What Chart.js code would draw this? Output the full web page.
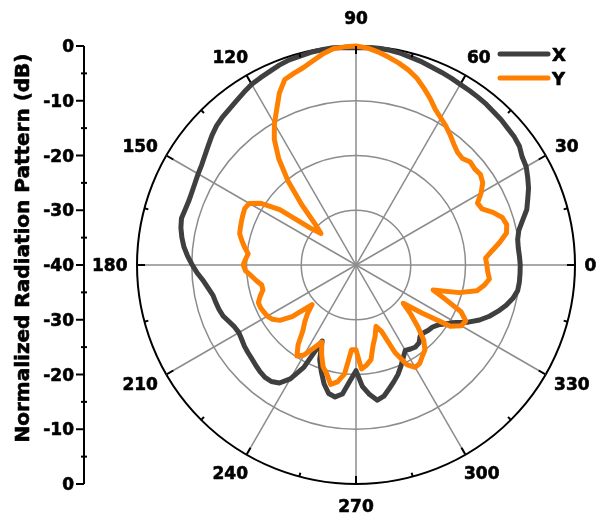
<!DOCTYPE html>
<html>
<head>
<meta charset="utf-8">
<script src="https://cdn.jsdelivr.net/npm/chart.js"></script>
<style>
  html, body { margin: 0; padding: 0; background: #fff; }
  canvas { display: block; }
</style>
</head>
<body>
<canvas id="pattern" width="597" height="518"></canvas>
<script>
// measured every 3 degrees, 0 deg at the right, counter-clockwise
const ANGLES = Array.from({ length: 120 }, (_, i) => i * 3);

const X_DB = [
  -10.0, -10.1, -10.2, -10.1, -9.6, -8.5, -7.2, -6.4, -5.5, -4.8,
  -4.1, -3.8, -3.1, -2.8, -2.7, -2.5, -2.4, -2.2, -2.1, -2.0,
  -1.9, -1.7, -1.5, -1.3, -1.0, -0.8, -0.5, -0.3, -0.2, -0.2,
  -0.3, -0.2, -0.1, -0.2, -0.3, -0.5, -0.6, -0.9, -1.3, -1.6,
  -1.9, -2.4, -2.9, -3.3, -3.6, -4.0, -4.6, -5.3, -5.9, -6.4,
  -6.7, -7.0, -7.2, -7.3, -7.2, -7.0, -7.3, -7.8, -8.4, -9.2,
  -10.1, -11.0, -12.0, -12.7, -13.3, -13.5, -13.7, -14.0, -14.6, -15.1,
  -15.3, -15.1, -14.8, -14.6, -14.4, -14.1, -13.8, -13.6, -13.7, -14.3,
  -16.0, -19.0, -24.8, -21.5, -19.5, -17.5, -16.0, -15.6, -16.3, -18.8,
  -20.7, -17.8, -16.2, -15.0, -15.5, -16.6, -17.6, -18.6, -19.8, -21.0,
  -22.0, -21.7, -21.5, -21.7, -22.5, -22.5, -22.2, -22.0, -21.4, -20.3,
  -19.0, -17.0, -15.3, -13.9, -12.7, -11.6, -10.7, -10.1, -10.0, -10.0
];

const Y_DB = [
  -16.1, -16.3, -15.0, -13.4, -11.9, -11.5, -11.9, -13.2, -14.8, -15.1,
  -13.6, -12.4, -11.9, -12.1, -11.9, -12.5, -12.3, -11.6, -10.7, -9.8,
  -9.0, -8.1, -6.7, -5.4, -4.1, -3.1, -2.3, -1.6, -0.9, -0.3,
  0.0, -0.1, -0.3, -1.0, -1.9, -2.7, -3.2, -3.7, -5.6, -8.1,
  -10.2, -12.6, -16.0, -20.3, -25.2, -29.5, -31.4, -29.3, -22.8, -19.3,
  -17.5, -17.2, -17.4, -17.6, -17.8, -18.0, -18.7, -19.4, -20.2, -19.8,
  -19.4, -19.8, -20.8, -21.6, -22.4, -22.4, -21.6, -20.9, -20.9, -21.1,
  -21.3, -21.8, -22.8, -25.0, -29.2, -27.5, -26.0, -24.6, -22.0, -20.2,
  -21.0, -23.0, -24.6, -22.5, -20.5, -19.4, -17.7, -18.4, -20.0, -24.5,
  -24.5, -21.0, -21.6, -22.5, -25.0, -26.5, -28.2, -27.0, -22.5, -19.6,
  -18.4, -18.6, -19.4, -20.0, -21.5, -24.0, -26.5, -28.9, -25.0, -19.5,
  -17.8, -17.5, -19.0, -22.5, -25.2, -20.5, -17.4, -16.3, -15.5, -15.9
];

const SERIES = ['X', 'Y'];
const ANGLE_TICKS = [0, 30, 60, 90, 120, 150, 180, 210, 240, 270, 300, 330];
const DB_TICKS = [-40, -30, -20, -10, 0];
const AXIS_TITLE = 'Normalized Radiation Pattern (dB)';

// the radar scale runs clockwise, so feed it the angles in reverse
const order = ANGLES.map((_, i) => (ANGLES.length - i) % ANGLES.length);
const labels = order.map(i => ANGLES[i]);
const xData = order.map(i => X_DB[i]);
const yData = order.map(i => Y_DB[i]);

const FONT = '"DejaVu Sans", sans-serif';
const GRID = '#8c8c8c';

// heavy text like the original export
function boldText(ctx, text, x, y) {
  ctx.strokeText(text, x, y);
  ctx.fillText(text, x, y);
}

const polarFrame = {
  id: 'polarFrame',
  afterDraw(chart) {
    const ctx = chart.ctx;
    const r = chart.scales.r;
    const R = r.drawingArea, cx = r.xCenter, cy = r.yCenter;
    const at = (deg, dist) => r.getPointPosition(labels.indexOf(deg), dist);

    ctx.save();
    ctx.strokeStyle = '#000';
    ctx.fillStyle = '#000';
    ctx.lineWidth = 2;

    // rim ticks, pointing inwards
    for (let a = 0; a < 360; a += 15) {
      const p0 = at(a, R), p1 = at(a, R - (a % 30 === 0 ? 8 : 4));
      ctx.beginPath();
      ctx.moveTo(p0.x, p0.y);
      ctx.lineTo(p1.x, p1.y);
      ctx.stroke();
    }

    // left dB axis, mirrored about the centre
    const x0 = 84;
    ctx.beginPath();
    ctx.moveTo(x0, cy - R);
    ctx.lineTo(x0, cy + R);
    ctx.stroke();
    DB_TICKS.forEach(v => {
      const d = r.getDistanceFromCenterForValue(v);
      const ys = d === 0 ? [cy] : [cy - d, cy + d];
      ys.forEach(y => {
        ctx.beginPath();
        ctx.moveTo(x0 - 8, y);
        ctx.lineTo(x0, y);
        ctx.stroke();
      });
      if (v < 0) {
        const dm = r.getDistanceFromCenterForValue(v + 5);
        [cy - dm, cy + dm].forEach(y => {
          ctx.beginPath();
          ctx.moveTo(x0 - 3, y);
          ctx.lineTo(x0 + 3, y);
          ctx.stroke();
        });
      }
    });

    // text
    ctx.lineWidth = 0.6;
    ctx.lineJoin = 'round';
    ctx.font = 'bold 17px ' + FONT;
    ctx.textBaseline = 'alphabetic';

    ctx.textAlign = 'center';
    ANGLE_TICKS.forEach(a => {
      const ux = Math.cos(a * Math.PI / 180), uy = -Math.sin(a * Math.PI / 180);
      const gap = 9.5 + 6 * Math.abs(uy) + (a === 90 ? 6 : 0);
      const p = at(a, R + gap);
      const w = ctx.measureText(String(a)).width, h = 13;
      boldText(ctx, String(a), p.x + ux * w / 2, p.y + uy * h / 2 + 6.2);
    });

    ctx.textAlign = 'right';
    DB_TICKS.forEach(v => {
      const d = r.getDistanceFromCenterForValue(v);
      const ys = d === 0 ? [cy] : [cy - d, cy + d];
      ys.forEach(y => boldText(ctx, String(v), x0 - 10, y + 6.2));
    });

    // axis title
    ctx.save();
    ctx.translate(29, 248);
    ctx.rotate(-Math.PI / 2);
    ctx.font = 'bold 20px ' + FONT;
    ctx.textAlign = 'center';
    boldText(ctx, AXIS_TITLE, 0, 0);
    ctx.restore();

    // legend
    ctx.textAlign = 'left';
    ctx.font = 'bold 18px ' + FONT;
    chart.data.datasets.forEach((ds, i) => {
      const y = 54 + i * 24;
      ctx.strokeStyle = ds.borderColor;
      ctx.lineWidth = 5;
      ctx.lineCap = 'round';
      ctx.beginPath();
      ctx.moveTo(500, y);
      ctx.lineTo(548, y);
      ctx.stroke();
      ctx.strokeStyle = '#000';
      ctx.lineWidth = 0.6;
      boldText(ctx, ds.label, 552, y + 6.6);
    });
    ctx.restore();
  }
};

new Chart(document.getElementById('pattern'), {
  type: 'radar',
  data: {
    labels: labels,
    datasets: [
      { label: SERIES[0], data: xData, borderColor: '#3f3f3f', order: 1 },
      { label: SERIES[1], data: yData, borderColor: '#ff8000', order: 0 }
    ]
  },
  options: {
    responsive: false,
    animation: false,
    devicePixelRatio: 1,
    layout: { padding: { left: 137, top: 46, right: 22, bottom: 34 } },
    elements: {
      line: { borderWidth: 5, tension: 0, fill: false, borderJoinStyle: 'round' },
      point: { radius: 0, hitRadius: 0, hoverRadius: 0 }
    },
    plugins: {
      legend: { display: false },
      tooltip: { enabled: false }
    },
    scales: {
      r: {
        min: -40,
        max: 0,
        startAngle: 90,
        ticks: { display: false, stepSize: 10 },
        pointLabels: { display: false },
        grid: {
          circular: true,
          color: c => c.tick.value === 0 ? '#000' : GRID,
          lineWidth: c => c.tick.value === 0 ? 2 : 1.5
        },
        angleLines: {
          color: GRID,
          lineWidth: c => labels[c.index] % 30 === 0 ? 1.5 : 0
        }
      }
    }
  },
  plugins: [polarFrame]
});
</script>
</body>
</html>
